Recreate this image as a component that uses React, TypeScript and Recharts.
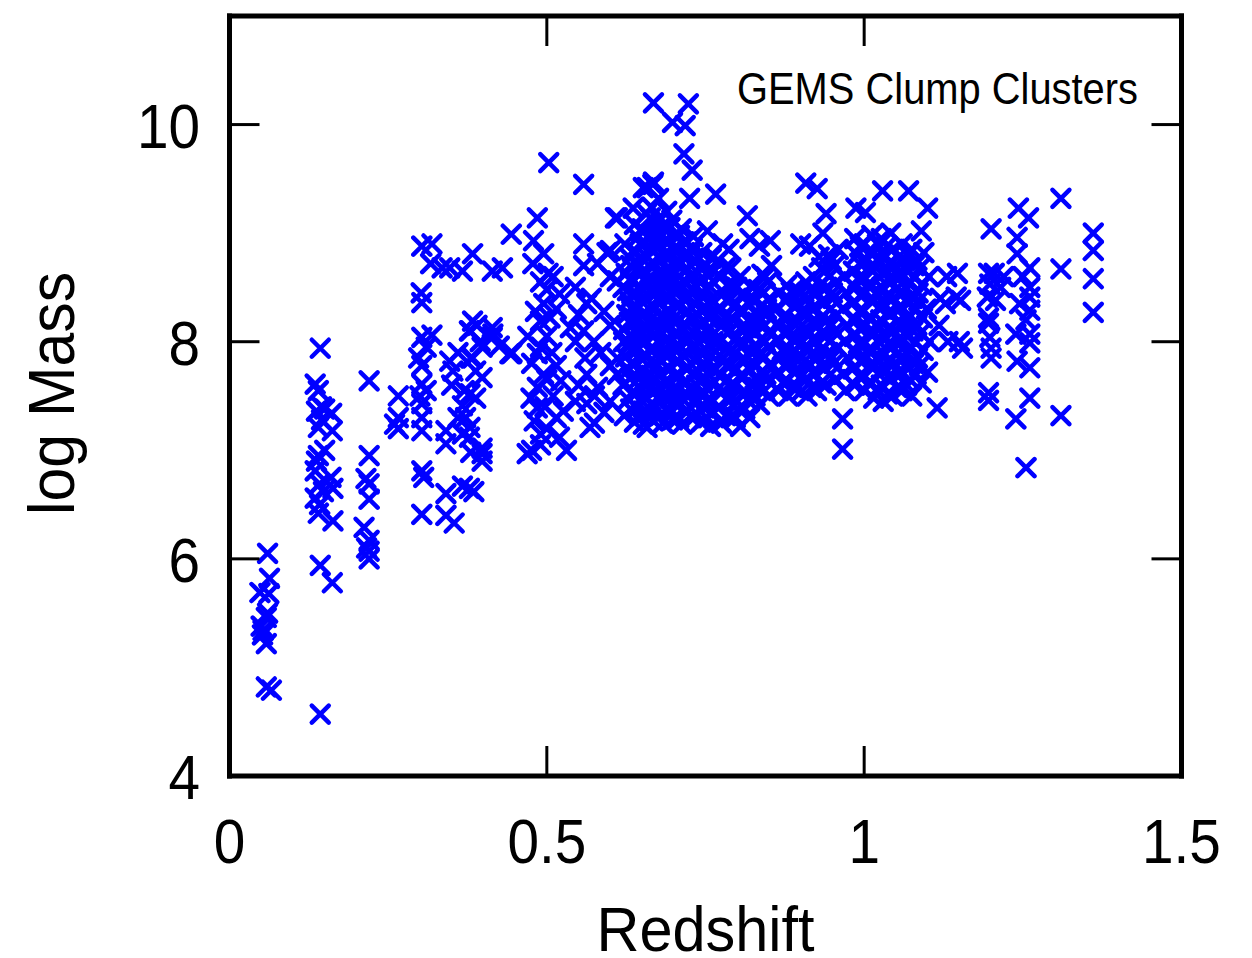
import { ScatterChart, Scatter, XAxis, YAxis } from 'recharts';

type Pt = [number, number];

// redshift, log mass, grouped by redshift band
const lowZ: Pt[] = [
  [0.048, 5.69], [0.06, 6.05], [0.063, 5.82], [0.062, 5.68], [0.058, 5.46], [0.05, 5.38], [0.053, 5.34],
  [0.058, 5.22], [0.052, 5.3], [0.06, 5.5], [0.058, 4.82], [0.066, 4.79],
  [0.143, 7.94], [0.135, 7.61], [0.14, 7.55], [0.137, 7.36], [0.145, 7.4], [0.15, 7.38], [0.161, 7.34],
  [0.14, 7.21], [0.162, 7.18], [0.145, 7.28], [0.137, 6.9], [0.135, 6.81], [0.16, 6.75], [0.142, 6.69],
  [0.163, 6.65], [0.135, 6.56], [0.142, 6.5], [0.14, 6.42], [0.163, 6.35], [0.143, 5.94], [0.162, 5.78],
  [0.143, 4.57], [0.15, 7.0], [0.14, 6.95], [0.148, 6.62],
  [0.22, 7.64], [0.22, 6.95], [0.215, 6.74], [0.22, 6.69], [0.22, 6.55], [0.212, 6.29], [0.22, 6.17],
  [0.22, 6.07], [0.22, 6.0], [0.216, 6.1],
  [0.266, 7.5], [0.266, 7.3], [0.266, 7.2], [0.26, 7.24],
];

const midZ: Pt[] = [
  [0.303, 8.88], [0.319, 8.9], [0.317, 8.72], [0.335, 8.68], [0.302, 8.45], [0.303, 8.36], [0.303, 8.04],
  [0.319, 8.06], [0.298, 7.85], [0.303, 7.78], [0.303, 7.61], [0.303, 7.43], [0.303, 7.3], [0.303, 7.18],
  [0.303, 6.81], [0.306, 6.75], [0.303, 6.41], [0.31, 7.55], [0.3, 7.5], [0.31, 7.95],
  [0.347, 7.82], [0.352, 7.73], [0.347, 8.68], [0.367, 8.65], [0.383, 8.81], [0.414, 8.65], [0.383, 8.19],
  [0.378, 8.1], [0.414, 8.13], [0.414, 8.04], [0.425, 7.96], [0.444, 7.89], [0.398, 7.95], [0.388, 7.73],
  [0.388, 7.48], [0.398, 7.67], [0.367, 7.41], [0.341, 7.18], [0.341, 7.06], [0.367, 7.15], [0.378, 7.12],
  [0.398, 7.02], [0.398, 6.9], [0.367, 6.67], [0.378, 6.65], [0.341, 6.6], [0.341, 6.4], [0.354, 6.33],
  [0.385, 6.62], [0.36, 7.3], [0.37, 7.55], [0.395, 8.0], [0.36, 7.9], [0.35, 7.6], [0.38, 7.85],
  [0.39, 8.15], [0.372, 7.3], [0.38, 6.98], [0.444, 8.99], [0.43, 8.68], [0.445, 7.9],
];

const z05: Pt[] = [
  [0.503, 9.65], [0.558, 9.45], [0.485, 9.14], [0.479, 8.93], [0.495, 8.81], [0.502, 8.63], [0.558, 8.9],
  [0.558, 8.7], [0.611, 9.14], [0.595, 8.82], [0.49, 8.19], [0.52, 8.44], [0.537, 8.13], [0.563, 8.35],
  [0.574, 8.0], [0.558, 8.1], [0.485, 7.89], [0.495, 7.7], [0.522, 7.64], [0.563, 7.7], [0.58, 7.58],
  [0.611, 7.7], [0.485, 7.39], [0.526, 7.36], [0.563, 7.43], [0.568, 7.21], [0.531, 7.0], [0.469, 6.97],
  [0.49, 7.15], [0.379, 8.1], [0.415, 8.07], [0.442, 7.89], [0.383, 7.85], [0.379, 7.52], [0.379, 7.21],
  [0.398, 6.97], [0.636, 8.22], [0.621, 8.0], [0.611, 7.85], [0.652, 7.36], [0.658, 7.21], [0.611, 8.56],
  [0.627, 8.47],
  [0.478, 8.72], [0.49, 8.55], [0.5, 8.48], [0.51, 8.6], [0.495, 8.35], [0.482, 8.28], [0.505, 8.22],
  [0.515, 8.3], [0.47, 8.05], [0.5, 8.05], [0.49, 7.95], [0.508, 7.9], [0.476, 7.8], [0.515, 7.78],
  [0.5, 7.65], [0.485, 7.58], [0.51, 7.5], [0.475, 7.48], [0.497, 7.4], [0.515, 7.3], [0.48, 7.27],
  [0.5, 7.2], [0.49, 7.05], [0.476, 7.0], [0.52, 7.12],
  [0.545, 8.5], [0.57, 8.4], [0.59, 8.28], [0.55, 8.25], [0.6, 8.15], [0.545, 8.0], [0.585, 7.9],
  [0.56, 7.85], [0.6, 7.78], [0.55, 7.6], [0.575, 7.5], [0.59, 7.35], [0.545, 7.45], [0.575, 7.25],
  [0.6, 7.45], [0.58, 8.72], [0.6, 8.6],
];

const peakUpper: Pt[] = [
  [0.668, 10.2], [0.723, 10.19], [0.698, 10.02], [0.718, 9.99], [0.716, 9.73], [0.729, 9.58], [0.668, 9.47],
  [0.652, 9.42], [0.766, 9.36], [0.725, 9.32], [0.608, 9.14], [0.636, 9.23], [0.658, 9.42], [0.667, 9.45],
  [0.753, 9.02], [0.852, 8.93], [0.6, 8.84],
];

const peakCore: Pt[] = [
  [0.622, 7.32], [0.628, 7.47], [0.62, 7.6], [0.627, 7.73], [0.624, 7.86], [0.63, 7.99], [0.621, 8.11],
  [0.626, 8.25], [0.629, 8.38], [0.62, 8.5], [0.625, 8.63], [0.631, 8.77], [0.623, 8.9],
  [0.638, 7.26], [0.643, 7.39], [0.64, 7.52], [0.645, 7.66], [0.637, 7.8], [0.642, 7.92], [0.646, 8.05],
  [0.639, 8.18], [0.644, 8.31], [0.641, 8.44], [0.636, 8.57], [0.647, 8.7], [0.64, 8.83], [0.643, 8.96], [0.638, 9.08],
  [0.652, 7.24], [0.658, 7.35], [0.655, 7.48], [0.66, 7.61], [0.651, 7.74], [0.657, 7.87], [0.654, 8.0],
  [0.659, 8.13], [0.653, 8.26], [0.656, 8.39], [0.661, 8.52], [0.652, 8.65], [0.658, 8.78], [0.655, 8.91],
  [0.65, 9.04], [0.657, 9.18],
  [0.668, 7.27], [0.672, 7.4], [0.666, 7.53], [0.671, 7.66], [0.674, 7.79], [0.667, 7.93], [0.67, 8.06],
  [0.675, 8.19], [0.669, 8.32], [0.673, 8.45], [0.666, 8.58], [0.671, 8.71], [0.668, 8.84], [0.674, 8.97],
  [0.67, 9.1], [0.665, 9.24], [0.676, 9.32],
  [0.683, 7.25], [0.688, 7.37], [0.681, 7.5], [0.686, 7.63], [0.69, 7.76], [0.684, 7.89], [0.687, 8.02],
  [0.682, 8.15], [0.689, 8.28], [0.685, 8.41], [0.68, 8.54], [0.688, 8.67], [0.684, 8.8], [0.686, 8.93],
  [0.681, 9.06], [0.689, 9.2],
  [0.698, 7.28], [0.703, 7.42], [0.696, 7.55], [0.701, 7.68], [0.705, 7.81], [0.699, 7.94], [0.702, 8.07],
  [0.697, 8.2], [0.704, 8.33], [0.7, 8.46], [0.695, 8.59], [0.703, 8.72], [0.699, 8.85], [0.701, 8.98], [0.697, 9.12],
  [0.713, 7.24], [0.718, 7.36], [0.711, 7.49], [0.716, 7.62], [0.72, 7.75], [0.714, 7.88], [0.717, 8.01],
  [0.712, 8.14], [0.719, 8.27], [0.715, 8.4], [0.71, 8.53], [0.718, 8.66], [0.714, 8.79], [0.716, 8.92], [0.712, 9.04],
  [0.728, 7.3], [0.733, 7.43], [0.726, 7.56], [0.731, 7.69], [0.735, 7.82], [0.729, 7.95], [0.732, 8.08],
  [0.727, 8.21], [0.734, 8.34], [0.73, 8.47], [0.725, 8.6], [0.733, 8.73], [0.729, 8.86], [0.731, 8.97],
  [0.743, 7.26], [0.748, 7.39], [0.741, 7.52], [0.746, 7.65], [0.75, 7.78], [0.744, 7.91], [0.747, 8.04],
  [0.742, 8.17], [0.749, 8.3], [0.745, 8.43], [0.74, 8.56], [0.748, 8.69], [0.744, 8.82],
  [0.758, 7.22], [0.763, 7.35], [0.756, 7.48], [0.761, 7.61], [0.765, 7.74], [0.759, 7.87], [0.762, 8.0],
  [0.757, 8.13], [0.764, 8.26], [0.76, 8.39], [0.755, 8.52], [0.763, 8.65], [0.759, 8.77],
];

const peakFill: Pt[] = [
  [0.632, 7.38], [0.634, 7.53], [0.631, 7.66], [0.633, 7.8], [0.632, 7.92], [0.635, 8.05], [0.63, 8.18],
  [0.633, 8.31], [0.634, 8.44], [0.631, 8.57], [0.632, 8.7], [0.635, 8.83],
  [0.648, 7.32], [0.65, 7.45], [0.647, 7.58], [0.649, 7.72], [0.648, 7.85], [0.651, 7.98], [0.646, 8.11],
  [0.649, 8.24], [0.65, 8.37], [0.647, 8.5], [0.648, 8.63], [0.651, 8.76], [0.647, 8.9], [0.649, 9.02],
  [0.663, 7.3], [0.665, 7.43], [0.662, 7.56], [0.664, 7.69], [0.663, 7.82], [0.666, 7.95], [0.661, 8.08],
  [0.664, 8.21], [0.665, 8.34], [0.662, 8.47], [0.663, 8.6], [0.666, 8.73], [0.662, 8.86], [0.664, 8.99], [0.663, 9.14],
  [0.678, 7.32], [0.68, 7.45], [0.677, 7.58], [0.679, 7.71], [0.678, 7.84], [0.681, 7.97], [0.676, 8.1],
  [0.679, 8.23], [0.68, 8.36], [0.677, 8.49], [0.678, 8.62], [0.681, 8.75], [0.677, 8.88], [0.679, 9.0], [0.678, 9.12],
  [0.693, 7.35], [0.695, 7.48], [0.692, 7.62], [0.694, 7.75], [0.693, 7.88], [0.696, 8.0], [0.691, 8.13],
  [0.694, 8.26], [0.695, 8.4], [0.692, 8.53], [0.693, 8.66], [0.696, 8.79], [0.692, 8.92], [0.694, 9.05],
  [0.708, 7.3], [0.71, 7.43], [0.707, 7.56], [0.709, 7.69], [0.708, 7.82], [0.711, 7.95], [0.706, 8.08],
  [0.709, 8.21], [0.71, 8.34], [0.707, 8.47], [0.708, 8.6], [0.711, 8.73], [0.707, 8.86], [0.709, 8.98],
  [0.722, 7.36], [0.724, 7.5], [0.721, 7.63], [0.723, 7.76], [0.722, 7.89], [0.725, 8.02], [0.72, 8.15],
  [0.723, 8.28], [0.724, 8.41], [0.721, 8.54], [0.722, 8.67], [0.725, 8.8], [0.721, 8.92],
  [0.737, 7.33], [0.739, 7.46], [0.736, 7.6], [0.738, 7.73], [0.737, 7.86], [0.74, 7.99], [0.735, 8.12],
  [0.738, 8.25], [0.739, 8.38], [0.736, 8.51], [0.737, 8.64], [0.74, 8.77],
  [0.752, 7.3], [0.754, 7.45], [0.751, 7.58], [0.753, 7.71], [0.752, 7.84], [0.755, 7.97], [0.75, 8.1],
  [0.753, 8.23], [0.754, 8.36], [0.751, 8.49], [0.752, 8.62],
];

const shoulder: Pt[] = [
  [0.775, 7.25], [0.772, 7.4], [0.778, 7.55], [0.774, 7.7], [0.777, 7.85], [0.771, 8.0], [0.776, 8.15],
  [0.773, 8.3], [0.779, 8.45], [0.774, 8.6], [0.77, 8.75], [0.777, 8.9],
  [0.79, 7.3], [0.787, 7.45], [0.793, 7.62], [0.789, 7.78], [0.792, 7.93], [0.786, 8.08], [0.791, 8.22],
  [0.788, 8.38], [0.794, 8.52], [0.79, 8.68], [0.787, 8.85],
  [0.805, 7.22], [0.802, 7.38], [0.808, 7.52], [0.804, 7.68], [0.807, 7.83], [0.801, 7.98], [0.806, 8.13],
  [0.803, 8.28], [0.809, 8.44], [0.805, 8.6], [0.816, 9.16],
  [0.82, 7.3], [0.817, 7.46], [0.823, 7.6], [0.819, 7.75], [0.822, 7.9], [0.816, 8.05], [0.821, 8.2],
  [0.818, 8.35], [0.824, 8.5], [0.82, 8.95],
  [0.835, 7.42], [0.832, 7.58], [0.838, 7.72], [0.834, 7.88], [0.837, 8.02], [0.831, 8.18], [0.836, 8.32],
  [0.833, 8.48], [0.839, 8.62], [0.835, 8.88],
  [0.85, 7.5], [0.847, 7.65], [0.853, 7.8], [0.849, 7.95], [0.852, 8.1], [0.846, 8.25], [0.851, 8.4],
  [0.848, 8.55], [0.854, 8.7],
  [0.782, 7.32], [0.784, 7.48], [0.781, 7.63], [0.783, 7.78], [0.782, 7.93], [0.785, 8.08], [0.78, 8.22],
  [0.783, 8.38], [0.784, 8.52], [0.781, 8.68],
  [0.797, 7.3], [0.799, 7.45], [0.796, 7.6], [0.798, 7.75], [0.797, 7.9], [0.8, 8.05], [0.795, 8.2],
  [0.798, 8.35], [0.799, 8.5],
  [0.812, 7.38], [0.814, 7.53], [0.811, 7.68], [0.813, 7.83], [0.812, 7.98], [0.815, 8.13], [0.81, 8.28], [0.813, 8.43],
  [0.828, 7.5], [0.83, 7.65], [0.827, 7.8], [0.829, 7.95], [0.828, 8.1], [0.831, 8.25], [0.826, 8.4],
  [0.843, 7.55], [0.845, 7.7], [0.842, 7.85], [0.844, 8.0], [0.843, 8.15], [0.846, 8.3], [0.841, 8.45], [0.844, 8.6],
];

const plateau: Pt[] = [
  [0.865, 7.55], [0.862, 7.7], [0.868, 7.85], [0.864, 8.0], [0.867, 8.15], [0.861, 8.3], [0.866, 8.45],
  [0.88, 7.5], [0.877, 7.65], [0.883, 7.8], [0.879, 7.95], [0.882, 8.1], [0.876, 8.25], [0.881, 8.4], [0.878, 8.52],
  [0.895, 7.58], [0.892, 7.72], [0.898, 7.88], [0.894, 8.02], [0.897, 8.18], [0.891, 8.32], [0.896, 8.46], [0.9, 8.9],
  [0.91, 7.5], [0.907, 7.64], [0.913, 7.8], [0.909, 7.95], [0.912, 8.1], [0.906, 8.26], [0.911, 8.4],
  [0.908, 8.55], [0.914, 8.88], [0.908, 9.46],
  [0.925, 7.55], [0.922, 7.7], [0.928, 7.86], [0.924, 8.0], [0.927, 8.15], [0.921, 8.3], [0.926, 8.45],
  [0.92, 8.6], [0.929, 8.78], [0.926, 9.41],
  [0.94, 7.6], [0.937, 7.75], [0.943, 7.9], [0.939, 8.05], [0.942, 8.2], [0.936, 8.35], [0.941, 8.5],
  [0.938, 8.65], [0.944, 8.8], [0.935, 9.0], [0.94, 9.18],
  [0.955, 7.65], [0.952, 7.8], [0.958, 7.95], [0.954, 8.1], [0.957, 8.25], [0.951, 8.4], [0.956, 8.55],
  [0.953, 8.7], [0.959, 8.85],
  [0.966, 7.29], [0.966, 7.01], [0.97, 7.55], [0.967, 7.7], [0.973, 7.85], [0.969, 8.0], [0.972, 8.15],
  [0.966, 8.3], [0.971, 8.45], [0.968, 8.6],
  [0.872, 7.62], [0.874, 7.78], [0.871, 7.92], [0.873, 8.08], [0.872, 8.22], [0.875, 8.38],
  [0.887, 7.58], [0.889, 7.72], [0.886, 7.88], [0.888, 8.02], [0.887, 8.18], [0.89, 8.32], [0.885, 8.46],
  [0.902, 7.55], [0.904, 7.7], [0.901, 7.85], [0.903, 8.0], [0.902, 8.15], [0.905, 8.3], [0.9, 8.45],
  [0.917, 7.58], [0.919, 7.72], [0.916, 7.88], [0.918, 8.02], [0.917, 8.18], [0.92, 8.32], [0.915, 8.48],
  [0.932, 7.62], [0.934, 7.78], [0.931, 7.92], [0.933, 8.08], [0.932, 8.22], [0.935, 8.38], [0.93, 8.52], [0.933, 8.68],
  [0.947, 7.7], [0.949, 7.85], [0.946, 8.0], [0.948, 8.15], [0.947, 8.3], [0.95, 8.45], [0.945, 8.6], [0.948, 8.75],
];

const z1: Pt[] = [
  [0.985, 7.6], [0.982, 7.75], [0.988, 7.9], [0.984, 8.05], [0.987, 8.2], [0.981, 8.35], [0.986, 8.5],
  [0.983, 8.65], [0.989, 8.8], [0.985, 8.95], [0.987, 9.23],
  [1.0, 7.55], [0.997, 7.7], [1.003, 7.85], [0.999, 8.0], [1.002, 8.15], [0.996, 8.3], [1.001, 8.45],
  [0.998, 8.6], [1.004, 8.75], [1.0, 8.9], [1.002, 9.19],
  [1.015, 7.48], [1.012, 7.62], [1.018, 7.78], [1.014, 7.92], [1.017, 8.08], [1.011, 8.22], [1.016, 8.38],
  [1.013, 8.52], [1.019, 8.68], [1.015, 8.82], [1.012, 8.98],
  [1.03, 7.45], [1.027, 7.6], [1.033, 7.75], [1.029, 7.9], [1.032, 8.05], [1.026, 8.2], [1.031, 8.35],
  [1.028, 8.5], [1.034, 8.65], [1.03, 8.8], [1.027, 8.95], [1.029, 9.39],
  [1.045, 7.5], [1.042, 7.65], [1.048, 7.8], [1.044, 7.95], [1.047, 8.1], [1.041, 8.25], [1.046, 8.4],
  [1.043, 8.55], [1.049, 8.7], [1.045, 8.85], [1.042, 9.0],
  [1.06, 7.55], [1.057, 7.7], [1.063, 7.85], [1.059, 8.0], [1.062, 8.15], [1.056, 8.3], [1.061, 8.45],
  [1.058, 8.6], [1.064, 8.75], [1.06, 8.9],
  [1.075, 7.5], [1.072, 7.65], [1.078, 7.8], [1.074, 7.95], [1.077, 8.1], [1.071, 8.25], [1.076, 8.4],
  [1.073, 8.55], [1.079, 8.7], [1.075, 8.85], [1.07, 9.39],
  [1.09, 7.62], [1.087, 7.78], [1.093, 7.92], [1.089, 8.08], [1.092, 8.22], [1.086, 8.38], [1.091, 8.52],
  [1.088, 8.68], [1.094, 8.82], [1.09, 9.02],
  [1.1, 7.72], [1.103, 8.0], [1.098, 8.3], [1.102, 8.6], [1.1, 9.23],
  [0.992, 7.68], [0.994, 7.82], [0.991, 7.98], [0.993, 8.12], [0.992, 8.28], [0.995, 8.42], [0.99, 8.58],
  [0.993, 8.72], [0.994, 8.88],
  [1.007, 7.62], [1.009, 7.78], [1.006, 7.92], [1.008, 8.08], [1.007, 8.22], [1.01, 8.38], [1.005, 8.52],
  [1.008, 8.68], [1.009, 8.82],
  [1.022, 7.55], [1.024, 7.7], [1.021, 7.85], [1.023, 8.0], [1.022, 8.15], [1.025, 8.3], [1.02, 8.45],
  [1.023, 8.6], [1.024, 8.75], [1.021, 8.9],
  [1.037, 7.52], [1.039, 7.68], [1.036, 7.82], [1.038, 7.98], [1.037, 8.12], [1.04, 8.28], [1.035, 8.42],
  [1.038, 8.58], [1.039, 8.72], [1.036, 8.88],
  [1.052, 7.58], [1.054, 7.72], [1.051, 7.88], [1.053, 8.02], [1.052, 8.18], [1.055, 8.32], [1.05, 8.48],
  [1.053, 8.62], [1.054, 8.78],
  [1.067, 7.6], [1.069, 7.75], [1.066, 7.9], [1.068, 8.05], [1.067, 8.2], [1.07, 8.35], [1.065, 8.5],
  [1.068, 8.65], [1.069, 8.8],
  [1.082, 7.7], [1.084, 7.85], [1.081, 8.0], [1.083, 8.15], [1.082, 8.3], [1.085, 8.45], [1.08, 8.6], [1.083, 8.75],
];

const tail: Pt[] = [
  [1.115, 7.39], [1.118, 8.15], [1.12, 8.4], [1.13, 8.6], [1.128, 8.35], [1.132, 8.0], [1.147, 8.63],
  [1.152, 8.38], [1.15, 8.0], [1.155, 7.94], [1.145, 8.41],
  [1.2, 9.04], [1.196, 8.63], [1.198, 8.53], [1.205, 8.63], [1.194, 8.41], [1.207, 8.38], [1.196, 8.22],
  [1.196, 8.17], [1.198, 8.04], [1.2, 7.94], [1.2, 7.85], [1.196, 7.53], [1.196, 7.46],
  [1.243, 9.23], [1.259, 9.14], [1.241, 8.96], [1.241, 8.81], [1.261, 8.68], [1.261, 8.5], [1.261, 8.41],
  [1.261, 8.29], [1.239, 8.07], [1.261, 8.07], [1.261, 7.99], [1.241, 7.82], [1.261, 7.76], [1.261, 7.48],
  [1.239, 7.29], [1.255, 6.84], [1.25, 8.6], [1.22, 8.6], [1.215, 8.5], [1.255, 8.2], [1.245, 8.35],
  [1.31, 9.32], [1.31, 8.67], [1.31, 7.32],
  [1.361, 9.0], [1.361, 8.84], [1.361, 8.58], [1.361, 8.27],
];

const xTicks = [0, 0.5, 1, 1.5];
const xTickLabels = ['0', '0.5', '1', '1.5'];
const yTicks = [4, 6, 8, 10];
const yTickLabels = ['4', '6', '8', '10'];

const points = [lowZ, midZ, z05, peakUpper, peakCore, peakFill, shoulder, plateau, z1, tail]
  .flat()
  .map(([z, m]) => ({ z, m }));

const FONT = '"Liberation Sans", Arial, Helvetica, sans-serif';
const BLUE = '#0000ff';
const TICK = 30;
const frame = { stroke: '#000', strokeWidth: 5, strokeLinecap: 'square' as const };

function Cross(props: any) {
  const { cx, cy } = props;
  if (cx == null || cy == null) return null;
  const r = 8.5;
  return (
    <path
      d={`M${cx - r},${cy - r}L${cx + r},${cy + r}M${cx + r},${cy - r}L${cx - r},${cy + r}`}
      stroke={BLUE}
      strokeWidth={4.5}
      strokeLinecap="round"
      fill="none"
    />
  );
}

function BottomTick({ x, y, payload }: any) {
  const label = xTickLabels[xTicks.indexOf(payload.value)];
  return (
    <g>
      <line x1={x} y1={y} x2={x} y2={y - TICK} stroke="#000" strokeWidth={3} />
      <text transform={`translate(${x},${y + 87}) scale(0.9,1)`} textAnchor="middle" fontSize={63} fontFamily={FONT} fill="#000">
        {label}
      </text>
    </g>
  );
}

function LeftTick({ x, y, payload }: any) {
  const label = yTickLabels[yTicks.indexOf(payload.value)];
  return (
    <g>
      <line x1={x} y1={y} x2={x + TICK} y2={y} stroke="#000" strokeWidth={3} />
      <text transform={`translate(${x - 29.5},${y + 23}) scale(0.9,1)`} textAnchor="end" fontSize={63} fontFamily={FONT} fill="#000">
        {label}
      </text>
    </g>
  );
}

function TopTick({ x, y }: any) {
  return <line x1={x} y1={y} x2={x} y2={y + TICK} stroke="#000" strokeWidth={3} />;
}

function RightTick({ x, y }: any) {
  return <line x1={x} y1={y} x2={x - TICK} y2={y} stroke="#000" strokeWidth={3} />;
}

function XTitle(props: any) {
  const vb = props.viewBox || { x: 229.5, y: 776, width: 952, height: 182 };
  return (
    <text x={vb.x + vb.width / 2} y={vb.y + 175} textAnchor="middle" fontSize={63} fontFamily={FONT} fill="#000"
      textLength={218} lengthAdjust="spacingAndGlyphs">
      Redshift
    </text>
  );
}

function YTitle(props: any) {
  const vb = props.viewBox || { x: 0, y: 16, width: 229.5, height: 760 };
  const cy = vb.y + vb.height / 2 - 2.5;
  return (
    <text transform={`translate(74,${cy}) rotate(-90)`} textAnchor="middle" fontSize={64} fontFamily={FONT} fill="#000"
      textLength={243} lengthAdjust="spacingAndGlyphs">
      log Mass
    </text>
  );
}

function KeyTitle(props: any) {
  const vb = props.viewBox || { x: 229.5, y: 6, width: 952, height: 10 };
  return (
    <text x={vb.x + vb.width - 43.5} y={vb.y + vb.height + 88} textAnchor="end" fontSize={45} fontFamily={FONT} fill="#000"
      textLength={401} lengthAdjust="spacingAndGlyphs">
      GEMS Clump Clusters
    </text>
  );
}

export default function App() {
  return (
    <div style={{ position: 'absolute', left: 0, top: 0, width: 1252, height: 958, background: '#fff' }}>
      <ScatterChart width={1252} height={958} margin={{ top: 6, right: 60.5, bottom: 0, left: 0 }}>
        <XAxis xAxisId="b" dataKey="z" type="number" domain={[0, 1.5]} ticks={xTicks} interval={0}
          height={182} tickSize={0} tickMargin={0} tickLine={false} tick={BottomTick} axisLine={frame}
          allowDataOverflow label={XTitle} />
        <XAxis xAxisId="t" orientation="top" dataKey="z" type="number" domain={[0, 1.5]} ticks={xTicks} interval={0}
          height={10} tickSize={0} tickMargin={0} tickLine={false} tick={TopTick} axisLine={frame}
          allowDataOverflow label={KeyTitle} />
        <YAxis yAxisId="l" dataKey="m" type="number" domain={[4, 11]} ticks={yTicks} interval={0}
          width={229.5} tickSize={0} tickMargin={0} tickLine={false} tick={LeftTick} axisLine={frame}
          allowDataOverflow label={YTitle} />
        <YAxis yAxisId="r" orientation="right" dataKey="m" type="number" domain={[4, 11]} ticks={yTicks} interval={0}
          width={10} tickSize={0} tickMargin={0} tickLine={false} tick={RightTick} axisLine={frame}
          allowDataOverflow />
        <Scatter data={points} xAxisId="b" yAxisId="l" shape={Cross} isAnimationActive={false} />
      </ScatterChart>
    </div>
  );
}
